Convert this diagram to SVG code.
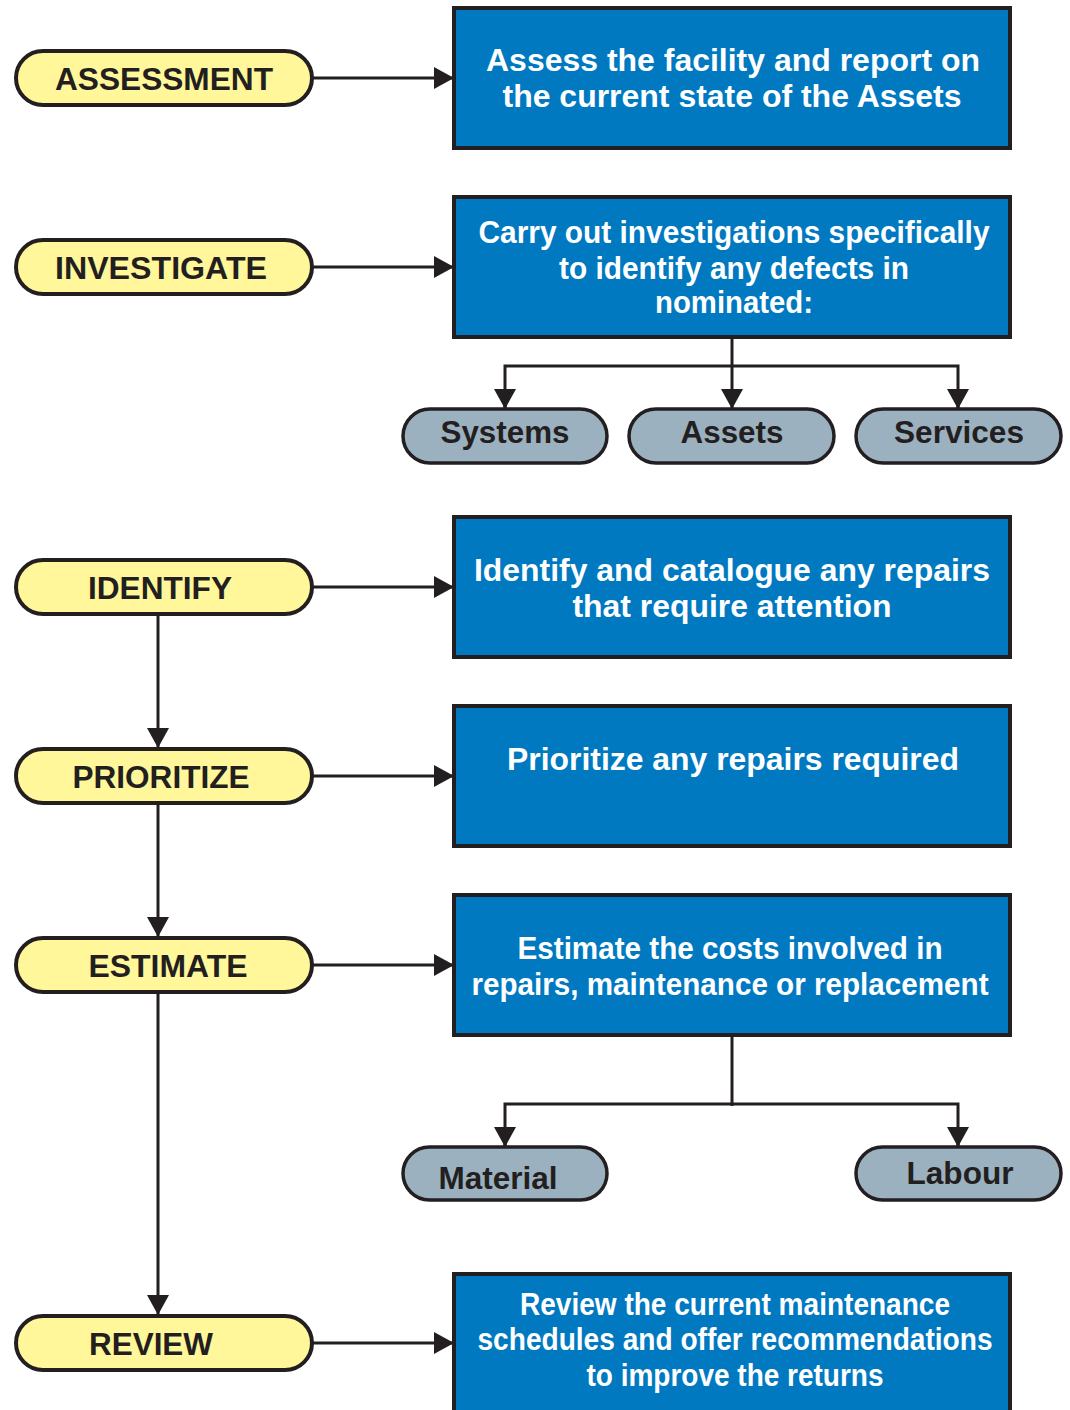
<svg xmlns="http://www.w3.org/2000/svg" width="1070" height="1410" viewBox="0 0 1070 1410">
<defs>
<style>
.step{fill:#FFF799;stroke:#231F20;stroke-width:4}
.box{fill:#0079C1;stroke:#231F20;stroke-width:4}
.sub{fill:#9BB1BF;stroke:#231F20;stroke-width:3.5}
.st{font-family:"Liberation Sans",Arial,sans-serif;font-weight:bold;font-size:32px;fill:#231F20;text-anchor:middle}
.bt{font-family:"Liberation Sans",Arial,sans-serif;font-weight:bold;font-size:32px;fill:#FFFFFF;text-anchor:middle}
.gt{font-family:"Liberation Sans",Arial,sans-serif;font-weight:bold;font-size:32px;fill:#231F20;text-anchor:middle}
.ln{fill:none;stroke:#231F20;stroke-width:3}
</style>
<marker id="ah2" viewBox="0 0 20 22" refX="20" refY="11" markerWidth="20" markerHeight="22" markerUnits="userSpaceOnUse" orient="auto">
<path d="M0,0 L20,11 L0,22 z" fill="#231F20"/>
</marker>
</defs>
<rect width="1070" height="1410" fill="#FFFFFF"/>

<g id="connectors">
<path class="ln" d="M312,78 H454" marker-end="url(#ah2)"/>
<path class="ln" d="M312,267 H454" marker-end="url(#ah2)"/>
<path class="ln" d="M312,587 H454" marker-end="url(#ah2)"/>
<path class="ln" d="M312,776 H454" marker-end="url(#ah2)"/>
<path class="ln" d="M312,965 H454" marker-end="url(#ah2)"/>
<path class="ln" d="M312,1343 H454" marker-end="url(#ah2)"/>
<path class="ln" d="M158,614 V748" marker-end="url(#ah2)"/>
<path class="ln" d="M158,803 V937" marker-end="url(#ah2)"/>
<path class="ln" d="M158,992 V1315" marker-end="url(#ah2)"/>
<path class="ln" d="M732,337 V409" marker-end="url(#ah2)"/>
<path class="ln" d="M505,409 V366 H958 V409"/>
<path class="ln" d="M958,390 V409" marker-end="url(#ah2)"/>
<path class="ln" d="M505,390 V409" marker-end="url(#ah2)"/>
<path class="ln" d="M732,1035 V1106"/>
<path class="ln" d="M505,1147 V1104 H958 V1147"/>
<path class="ln" d="M958,1128 V1147" marker-end="url(#ah2)"/>
<path class="ln" d="M505,1128 V1147" marker-end="url(#ah2)"/>
</g>

<g id="assessment"><rect class="step" x="16" y="51" width="296" height="54" rx="27"/><text class="st" x="164" y="90" textLength="218" lengthAdjust="spacingAndGlyphs">ASSESSMENT</text></g>
<g id="investigate"><rect class="step" x="16" y="240" width="296" height="54" rx="27"/><text class="st" x="161" y="279" textLength="212" lengthAdjust="spacingAndGlyphs">INVESTIGATE</text></g>
<g id="identify"><rect class="step" x="16" y="560" width="296" height="54" rx="27"/><text class="st" x="160" y="599" textLength="144" lengthAdjust="spacingAndGlyphs">IDENTIFY</text></g>
<g id="prioritize"><rect class="step" x="16" y="749" width="296" height="54" rx="27"/><text class="st" x="161" y="788" textLength="177" lengthAdjust="spacingAndGlyphs">PRIORITIZE</text></g>
<g id="estimate"><rect class="step" x="16" y="938" width="296" height="54" rx="27"/><text class="st" x="168" y="977" textLength="159" lengthAdjust="spacingAndGlyphs">ESTIMATE</text></g>
<g id="review"><rect class="step" x="16" y="1316" width="296" height="54" rx="27"/><text class="st" x="151" y="1355" textLength="124" lengthAdjust="spacingAndGlyphs">REVIEW</text></g>

<g id="box-assess"><rect class="box" x="454" y="8" width="556" height="140"/>
<text class="bt" x="733" y="71" textLength="494" lengthAdjust="spacingAndGlyphs">Assess the facility and report on</text>
<text class="bt" x="732" y="107" textLength="459" lengthAdjust="spacingAndGlyphs">the current state of the Assets</text></g>
<g id="box-investigate"><rect class="box" x="454" y="197" width="556" height="140"/>
<text class="bt" x="734" y="243" textLength="511" lengthAdjust="spacingAndGlyphs">Carry out investigations specifically</text>
<text class="bt" x="734" y="279" textLength="350" lengthAdjust="spacingAndGlyphs">to identify any defects in</text>
<text class="bt" x="734" y="313" textLength="158" lengthAdjust="spacingAndGlyphs">nominated:</text></g>
<g id="box-identify"><rect class="box" x="454" y="517" width="556" height="140"/>
<text class="bt" x="732" y="581" textLength="516" lengthAdjust="spacingAndGlyphs">Identify and catalogue any repairs</text>
<text class="bt" x="732" y="617" textLength="319" lengthAdjust="spacingAndGlyphs">that require attention</text></g>
<g id="box-prioritize"><rect class="box" x="454" y="706" width="556" height="140"/>
<text class="bt" x="733" y="770" textLength="452" lengthAdjust="spacingAndGlyphs">Prioritize any repairs required</text></g>
<g id="box-estimate"><rect class="box" x="454" y="895" width="556" height="140"/>
<text class="bt" x="730" y="959" textLength="425" lengthAdjust="spacingAndGlyphs">Estimate the costs involved in</text>
<text class="bt" x="730" y="995" textLength="517" lengthAdjust="spacingAndGlyphs">repairs, maintenance or replacement</text></g>
<g id="box-review"><rect class="box" x="454" y="1274" width="556" height="150"/>
<text class="bt" x="735" y="1315" textLength="430" lengthAdjust="spacingAndGlyphs">Review the current maintenance</text>
<text class="bt" x="735" y="1350" textLength="515" lengthAdjust="spacingAndGlyphs">schedules and offer recommendations</text>
<text class="bt" x="735" y="1386" textLength="297" lengthAdjust="spacingAndGlyphs">to improve the returns</text></g>

<g id="systems"><rect class="sub" x="403" y="409" width="204" height="54" rx="27"/><text class="gt" x="505" y="443" textLength="129" lengthAdjust="spacingAndGlyphs">Systems</text></g>
<g id="assets"><rect class="sub" x="629" y="409" width="205" height="54" rx="27"/><text class="gt" x="732" y="443" textLength="103" lengthAdjust="spacingAndGlyphs">Assets</text></g>
<g id="services"><rect class="sub" x="856" y="409" width="205" height="54" rx="27"/><text class="gt" x="959" y="443" textLength="130" lengthAdjust="spacingAndGlyphs">Services</text></g>
<g id="material"><rect class="sub" x="403" y="1147" width="204" height="53" rx="26.5"/><text class="gt" x="498" y="1189" textLength="119" lengthAdjust="spacingAndGlyphs">Material</text></g>
<g id="labour"><rect class="sub" x="856" y="1147" width="205" height="53" rx="26.5"/><text class="gt" x="960" y="1184" textLength="107" lengthAdjust="spacingAndGlyphs">Labour</text></g>
</svg>
